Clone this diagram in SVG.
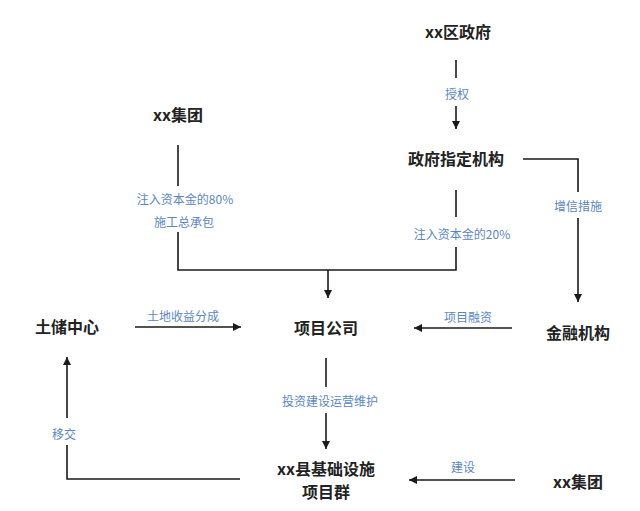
<svg xmlns="http://www.w3.org/2000/svg" width="640" height="511" viewBox="0 0 640 511">
<defs>
<marker id="ah" viewBox="0 0 10 10" refX="10" refY="5" markerWidth="8" markerHeight="8" markerUnits="userSpaceOnUse" orient="auto">
<path d="M0,0 L10,5 L0,10 z" fill="#1a1a1a"/>
</marker>
<style>
.n{font-family:"Noto Sans CJK SC","Noto Sans",sans-serif;font-size:16px;font-weight:bold;fill:#222;text-anchor:middle}
.l{font-family:"Noto Sans CJK SC","Noto Sans",sans-serif;font-size:12px;fill:#5a87c4;text-anchor:middle}
.c{fill:none;stroke:#1a1a1a;stroke-width:1.6}
</style>
</defs>
<rect width="640" height="511" fill="#fff"/>
<g id="connectors">
<line class="c" x1="456" y1="60" x2="456" y2="78"/>
<text class="l" x="457" y="99">授权</text>
<line class="c" x1="456" y1="106" x2="456" y2="129" marker-end="url(#ah)"/>
<polyline class="c" points="523,159 578,159 578,192"/>
<text class="l" x="578" y="211">增信措施</text>
<line class="c" x1="578" y1="218" x2="578" y2="302" marker-end="url(#ah)"/>
<line class="c" x1="512" y1="328" x2="414" y2="328" marker-end="url(#ah)"/>
<text class="l" x="468" y="322">项目融资</text>
<line class="c" x1="178" y1="145" x2="178" y2="186"/>
<text class="l" x="185" y="204">注入资本金的80%</text>
<text class="l" x="184" y="227">施工总承包</text>
<polyline class="c" points="178,232 178,270 456,270 456,247"/>
<line class="c" x1="456" y1="190" x2="456" y2="217"/>
<text class="l" x="462" y="239">注入资本金的20%</text>
<line class="c" x1="328" y1="270" x2="328" y2="298" marker-end="url(#ah)"/>
<line class="c" x1="135" y1="327" x2="241" y2="327" marker-end="url(#ah)"/>
<text class="l" x="183" y="321">土地收益分成</text>
<line class="c" x1="326" y1="358" x2="326" y2="387"/>
<text class="l" x="330" y="406">投资建设运营维护</text>
<line class="c" x1="326" y1="413" x2="326" y2="449" marker-end="url(#ah)"/>
<line class="c" x1="515" y1="480" x2="409" y2="480" marker-end="url(#ah)"/>
<text class="l" x="463" y="472">建设</text>
<polyline class="c" points="240,479 67,479 67,445"/>
<text class="l" x="64" y="439">移交</text>
<line class="c" x1="67" y1="418" x2="67" y2="357" marker-end="url(#ah)"/>
</g>
<g id="n-qu"><text class="n" x="458" y="38">xx区政府</text></g>
<g id="n-zhiding"><text class="n" x="456" y="165">政府指定机构</text></g>
<g id="n-jituan1"><text class="n" x="178" y="121">xx集团</text></g>
<g id="n-jinrong"><text class="n" x="578" y="339">金融机构</text></g>
<g id="n-tuchu"><text class="n" x="67" y="333">土储中心</text></g>
<g id="n-gongsi"><text class="n" x="326" y="334">项目公司</text></g>
<g id="n-xiangmuqun"><text class="n" x="326" y="475">xx县基础设施</text><text class="n" x="326" y="498">项目群</text></g>
<g id="n-jituan2"><text class="n" x="578" y="488">xx集团</text></g>
</svg>
